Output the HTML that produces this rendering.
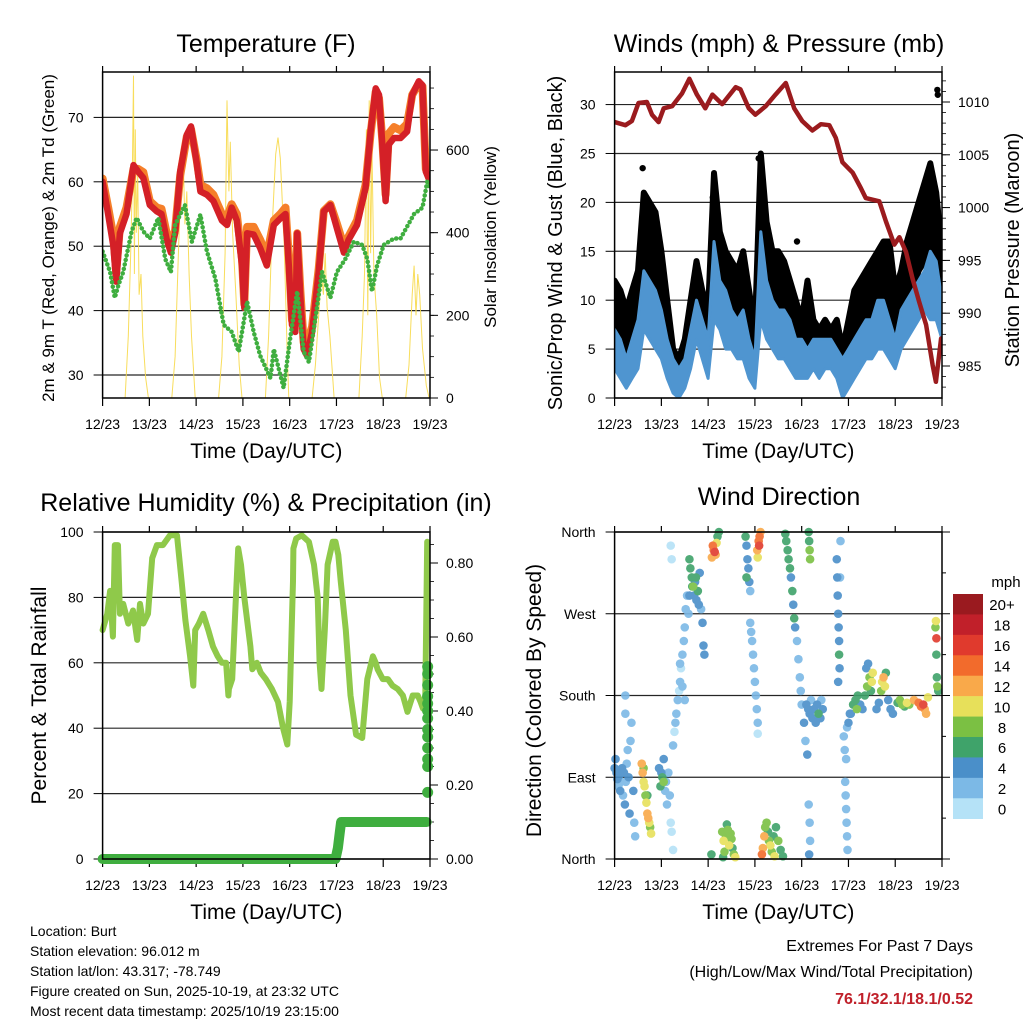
<!DOCTYPE html>
<html><head><meta charset="utf-8"><style>
html,body{margin:0;padding:0;background:#fff;}
svg{display:block;font-family:"Liberation Sans",Arial,sans-serif;}
</style></head><body>
<svg id="c" width="1024" height="1024" viewBox="0 0 1024 1024" xmlns="http://www.w3.org/2000/svg"></svg>
<script>
// ---------- DATA ----------
const dayLabels=["12/23","13/23","14/23","15/23","16/23","17/23","18/23","19/23"];
const tempT=[0,0.12,0.23,0.29,0.37,0.51,0.66,0.76,0.87,1.01,1.16,1.26,1.37,1.46,1.55,1.66,1.8,1.89,2.01,2.09,2.23,2.37,2.55,2.66,2.76,2.87,2.98,3.03,3.09,3.23,3.37,3.51,3.66,3.8,3.91,3.98,4.05,4.12,4.16,4.23,4.3,4.37,4.48,4.62,4.73,4.87,5.01,5.16,5.26,5.44,5.62,5.73,5.84,5.91,5.98,6.05,6.12,6.23,6.37,6.51,6.62,6.76,6.84,6.91,7.0];
const temp2m=[60,54.9,50,44.5,52,55,62.6,61.6,60.6,56.4,55.4,55,51,49,52,61.6,67.3,68.6,63,58.5,58,57,54,53.3,56,54,47,40.4,52,51.8,49.7,47,53.3,54.3,55,47,37.8,36.7,52,42,34,33,36.7,46,55.4,56.4,52.8,49,51,53.3,59,67.8,74.5,73.5,65.8,57,65.8,66.8,66.8,67.8,73.5,75.6,75,61.6,60];
const temp9m=[60.5,56,51.5,46,53,56,62,62,61.5,57,56,55.8,52,50.5,52.5,61,67,68.2,63.5,59.5,59,58,55,54.5,56.5,55,48,41,53,53,51,48.5,54,55,56,48.5,38.5,38,52,43,35,35,37.5,46.5,55.5,56.5,53.5,50,51.5,54,59.5,67.5,74,73,66.5,58,67.5,68.5,68,69,73.5,75.3,74.8,62,60.5];
const dewT=[0,0.16,0.26,0.34,0.44,0.62,0.73,0.87,1.01,1.19,1.34,1.46,1.55,1.76,1.91,2.09,2.23,2.41,2.59,2.76,2.91,3.09,3.23,3.37,3.59,3.66,3.87,4.01,4.16,4.3,4.41,4.55,4.69,4.87,5.01,5.19,5.37,5.55,5.66,5.76,5.87,6.01,6.23,6.37,6.66,6.84,6.94,7.0];
const dewF=[49.2,46,42,44,46,52.3,54.4,52.3,51.2,54.4,48,46,53.3,56.4,50.7,54.9,49.2,45,37.8,36.7,33.6,41.4,36.7,33,29.5,34,28,35.7,43,33.6,32,38.8,46,42,46,48,50.7,50.2,48,43,47,50.2,51.2,51.2,55,56,60,59];
const solarT=[0,0.48,0.55,0.6,0.63,0.66,0.68,0.7,0.72,0.75,0.78,0.82,0.86,0.92,0.98,1.48,1.55,1.62,1.68,1.72,1.76,1.8,1.85,1.9,1.98,2.48,2.55,2.62,2.66,2.7,2.73,2.78,2.85,2.92,2.98,3.48,3.55,3.62,3.7,3.75,3.8,3.88,3.95,3.98,4.48,4.55,4.62,4.68,4.72,4.76,4.8,4.86,4.95,5.48,5.55,5.6,5.64,5.67,5.7,5.73,5.76,5.8,5.86,5.92,5.98,6.48,6.55,6.62,6.66,6.7,6.74,6.78,6.84,6.92,6.98,7.0];
const solarW=[0,0,150,350,500,780,300,650,400,550,250,300,150,50,0,0,100,350,550,600,420,500,300,150,0,0,100,350,720,500,620,400,250,80,0,0,150,400,590,630,580,380,100,0,0,80,200,300,250,350,220,150,0,0,150,300,650,200,720,350,600,300,200,50,0,0,80,250,320,200,300,250,120,30,0,0];
const windT=[0,0.125,0.25,0.375,0.5,0.625,0.75,0.875,1,1.125,1.25,1.375,1.5,1.625,1.75,1.875,2,2.125,2.25,2.375,2.5,2.625,2.75,2.875,3,3.125,3.25,3.375,3.5,3.625,3.75,3.875,4,4.125,4.25,4.375,4.5,4.625,4.75,4.875,5,5.125,5.25,5.375,5.5,5.625,5.75,5.875,6,6.125,6.25,6.375,6.5,6.625,6.75,6.875,7];
const sustLo=[3,2,1,2,3,7,6,5,4,2,0.5,0,1,3,6,4,2,8,7,5,5,4,4,2,1,8,6,5,4,4,3,2,2,2,3,2,3,3,2,0,1,2,3,4,4,5,5,4,3,5,6,7,8,9,8,8,6];
const sustHi=[7,6,4,6,8,13,12,11,9,6,4,3,4,7,10,8,6,16,12,11,9,8,9,6,4,17,12,10,9,9,8,6,6,5,6,6,6,6,5,4,5,6,7,8,8,10,10,8,6,9,10,11,12,13,15,14,10];
const gustLo=[5,4,3,4,6,10,10,9,8,4,2,2,2,5,9,7,5,10,10,9,8,7,8,5,4,12,10,8,7,7,6,5,4,5,4,5,4,4,4,2,3,5,6,6,7,8,8,7,5,7,9,11,13,14,15,13,8];
const gustHi=[12,11,9,11,13,21,20,19,15,10,5,4,6,10,14,11,9,23,17,15,14,13,15,11,7,25,18,15,15,14,12,10,8,12,8,7,8,7,8,5,8,11,12,13,14,15,16,16,11,13,16,18,20,22,24,21,15];
const gustOutT=[0.6,2.1,2.3,3.08,3.9,4.65,6.82,6.9,6.91];
const gustOutW=[23.5,20.5,15,24.5,16,7,22,31.5,31];
const presT=[0,0.23,0.37,0.51,0.69,0.8,0.94,1.05,1.23,1.44,1.6,1.76,1.94,2.09,2.3,2.59,2.69,2.87,3.01,3.23,3.44,3.66,3.84,4.01,4.23,4.41,4.59,4.73,4.87,5.09,5.27,5.37,5.66,5.8,5.98,6.09,6.23,6.37,6.51,6.66,6.8,6.87,6.98];
const presMb=[1008.1,1007.8,1008.2,1009.9,1010,1008.8,1008.1,1009.4,1009.6,1010.8,1012.2,1010.7,1009.4,1010.7,1009.8,1011.4,1011.2,1009.4,1008.8,1009.6,1010.7,1011.8,1009.4,1008.2,1007.3,1007.9,1007.8,1006.6,1004.3,1003.3,1001.8,1000.9,1000.6,998.7,996.5,997.2,995.8,993.3,991.1,988.9,985.1,983.5,987.6];
const rhT=[0,0.1,0.16,0.22,0.26,0.33,0.37,0.44,0.55,0.65,0.74,0.8,0.87,0.97,1.06,1.16,1.29,1.44,1.59,1.69,1.77,1.87,1.94,1.98,2.06,2.15,2.26,2.36,2.46,2.55,2.64,2.69,2.7,2.77,2.85,2.9,2.96,3.03,3.16,3.2,3.3,3.38,3.49,3.62,3.75,3.86,3.95,4.0,4.07,4.08,4.14,4.26,4.41,4.52,4.6,4.64,4.68,4.69,4.75,4.81,4.92,4.98,5.04,5.09,5.2,5.3,5.42,5.55,5.66,5.78,5.84,5.88,5.99,6.1,6.2,6.31,6.42,6.52,6.63,6.74,6.8,6.85,6.9,6.94];
const rhPct=[70,75,82,68,96,96,75,78,72,76,67,78,72,75,92,96,96,99,99,85,73,62,53,70,72,75,70,65,62,60,60,50,52,55,80,95,90,80,65,58,60,57,55,52,48,40,35,48,85,95,98,99,97,90,80,60,52,55,70,90,97,97,93,85,70,50,38,37,55,62,60,58,55,55,53,52,50,45,50,50,48,46,50,97];
const precT=[0,4.98,5.03,5.07,5.1,5.15,6.93];
const precIn=[0,0,0.03,0.07,0.1,0.1,0.1];
const precEndIn=[0.18,0.25,0.27,0.3,0.33,0.35,0.38,0.4,0.42,0.44,0.47,0.5,0.52];
const dirT=[0,0.02,0.04,0.06,0.08,0.1,0.12,0.14,0.16,0.18,0.2,0.22,0.24,0.26,0.28,0.3,0.32,0.34,0.36,0.4,0.42,0.44,0.23,0.23,
0.58,0.6,0.62,0.64,0.66,0.68,0.7,0.72,0.74,0.76,0.78,0.62,0.7,
0.95,1.0,1.02,1.05,1.08,1.1,1.12,1.15,1.2,1.22,1.25,1.18,0.98,1.05,
1.25,1.28,1.3,1.32,1.35,1.38,1.4,1.42,1.45,1.48,1.5,1.52,1.55,1.2,1.22,1.45,1.5,1.4,
1.6,1.62,1.65,1.68,1.7,1.72,1.75,1.78,1.8,1.82,1.85,1.6,1.58,1.88,1.9,1.92,1.66,1.74,
2.1,2.12,2.14,2.16,2.08,2.18,2.2,2.23,2.07,
2.3,2.33,2.35,2.38,2.4,2.42,2.45,2.48,2.5,2.52,2.55,2.58,2.32,
2.8,2.82,2.84,2.86,2.88,2.9,2.82,
2.9,2.92,2.94,2.96,2.98,3.0,3.02,3.04,3.06,3.06,
3.05,3.08,3.1,3.12,3.09,3.06,
3.15,3.17,3.2,3.22,3.25,3.28,3.3,3.33,3.36,3.4,3.45,3.5,3.55,3.6,3.42,
3.65,3.67,3.7,3.72,3.75,3.77,3.8,3.82,3.84,3.86,
4.15,4.16,4.17,4.18,
3.9,3.93,3.96,3.98,4.0,4.05,4.08,4.12,
4.1,4.14,4.17,4.2,4.23,4.26,4.3,4.33,4.36,4.4,4.42,4.45,
4.15,4.17,4.18,4.16,
4.75,4.76,4.77,4.78,4.79,4.8,4.8,4.81,4.78,4.82,4.83,
4.93,4.94,4.95,4.96,4.97,4.98,4.9,4.92,4.95,4.97,5.0,5.03,
5.05,5.1,5.15,5.18,5.2,5.25,5.3,5.35,5.4,5.45,5.5,5.52,5.48,5.38,5.42,
5.6,5.65,5.7,5.72,5.75,5.78,5.8,5.85,5.9,5.95,6.05,6.1,6.15,6.2,6.25,6.3,6.4,6.5,6.55,6.6,6.63,6.66,6.7,6.86,6.87,6.88,6.88,6.89,6.9,6.92];
const dirDeg=[100,110,95,88,80,92,75,85,100,70,95,60,85,105,120,90,50,130,150,75,40,25,180,160,
105,95,85,80,70,62,50,45,40,35,28,100,70,
100,95,90,110,75,85,60,95,40,30,10,70,80,85,
125,140,150,160,175,185,195,210,225,240,255,275,290,345,330,190,175,215,
330,320,310,300,290,305,285,295,280,315,275,290,270,260,235,225,300,310,
345,340,338,335,332,348,355,360,5,
30,20,8,25,38,32,15,28,22,12,5,2,2,
355,345,330,320,305,295,310,
260,250,240,225,210,195,180,165,150,138,
340,350,355,360,345,332,
5,12,25,35,40,30,20,15,8,25,35,20,10,3,3,
358,350,340,330,320,310,295,280,265,255,
360,350,340,330,
240,220,200,185,170,150,130,115,
170,165,160,175,155,165,150,170,160,155,175,165,
60,40,20,5,
330,310,290,270,255,240,225,210,195,310,350,
85,70,55,40,25,10,135,120,110,145,150,160,
160,170,175,165,180,170,165,180,190,200,195,205,185,210,215,
165,172,185,195,200,190,205,175,165,160,172,175,170,168,172,170,175,172,168,170,165,160,178,255,262,243,225,200,190,185];
const dirSpd=[4,4,5,4,3,4,4,3,4,3,4,4,3,2,3,4,4,2,3,4,3,3,3,2,
13,12,11,10,9,10,12,13,11,9,10,8,7,
5,4,7,4,3,2,2,3,1,1,1,2,6,8,
2,1,2,2,2,1,2,1,2,2,2,2,3,1,1,2,2,2,
6,7,6,8,5,4,4,6,4,5,3,4,3,4,5,4,7,6,
14,15,16,13,12,10,7,6,6,
9,10,9,8,7,9,10,8,9,7,8,10,7,
6,5,4,4,5,3,6,
2,2,2,2,2,2,2,2,2,1,
12,14,15,13,17,11,
14,13,12,9,8,7,9,10,8,7,6,8,7,6,10,
6,7,6,6,7,5,6,5,6,5,
6,7,9,8,
3,2,2,2,3,4,3,4,
4,5,4,3,4,5,4,4,6,4,3,4,
3,3,3,4,
4,5,4,5,4,5,6,4,5,3,3,
2,2,2,2,2,2,2,2,3,3,4,4,
5,6,7,8,6,5,4,6,8,9,10,11,6,5,4,
4,5,8,10,12,10,7,5,4,4,7,8,9,7,10,9,12,14,15,16,13,12,10,8,10,16,6,6,8,7];
const cbarLabels=["20+","18","16","14","12","10","8","6","4","2","0"];
const cbarColors=["#9a1a1f","#c1202a","#e03a2d","#f26b2c","#f9a94a","#e7e05a","#7bc043","#3fa36a","#4a8fc9","#7cb9e6","#b5e2f7"];

// ---------- HELPERS ----------
const NS="http://www.w3.org/2000/svg";
const svg=document.getElementById('c');
function el(tag,attrs,parent){const e=document.createElementNS(NS,tag);for(const k in attrs)e.setAttribute(k,attrs[k]);(parent||svg).appendChild(e);return e;}
function txt(s,x,y,size,anchor,parent,extra){const t=el('text',Object.assign({x:x,y:y,'font-size':size,'text-anchor':anchor||'middle',fill:'#000'},extra||{}),parent);t.textContent=s;return t;}
function lin(d0,d1,r0,r1){return v=>r0+(v-d0)/(d1-d0)*(r1-r0);}
function colorFor(s){let i=Math.min(10,Math.floor(s/2));return cbarColors[10-i];}

const P1={x0:102.6,x1:430,y0:72,y1:398};
const P2={x0:614.6,x1:942,y0:72,y1:398};
const P3={x0:102.6,x1:430,y0:532,y1:859};
const P4={x0:614.6,x1:942,y0:532,y1:859};

function frame(P,name){
  const g=el('g',{});
  
  
  const xs=lin(0,7,P.x0,P.x1);
  const xg=el('g',{},g);
  
  
  dayLabels.forEach((lb,i)=>{
    const x=xs(i);
    el('line',{x1:x,x2:x,y1:P.y1,y2:P.y1+8,stroke:'#000','stroke-width':1.2},xg);
    el('line',{x1:x,x2:x,y1:P.y0,y2:P.y0-6,stroke:'#000','stroke-width':1.2},xg);
    const t=txt(lb,x,P.y1+31,14,'middle',xg);
    
    
  });
  const xt=txt('Time (Day/UTC)',(P.x0+P.x1)/2,P.y1+60,21,'middle',g);
  
  
  return {g,xs};
}
function box(P,g){const b=el('rect',{x:P.x0,y:P.y0,width:P.x1-P.x0,height:P.y1-P.y0,fill:'none',stroke:'#000','stroke-width':1.5},g);}
function leftAxis(P,g,ys,ticks,labels,grid){
  const ag=el('g',{},g);
  
  
  ticks.forEach((v,i)=>{const y=ys(v);
    if(grid)el('line',{x1:P.x0,x2:P.x1,y1:y,y2:y,stroke:'#000','stroke-width':1.2,opacity:0.85},ag);
    el('line',{x1:P.x0-9,x2:P.x0,y1:y,y2:y,stroke:'#000','stroke-width':1},ag);
    const t=txt(labels[i],P.x0-19,y+5,14,'end',ag);
    
    
  });
}
function rightAxis(P,g,ys,ticks,labels,minors){
  const ag=el('g',{},g);
  
  
  minors.forEach(v=>{const y=ys(v);el('line',{x1:P.x1,x2:P.x1+4,y1:y,y2:y,stroke:'#000','stroke-width':0.8},ag);});
  ticks.forEach((v,i)=>{const y=ys(v);
    el('line',{x1:P.x1,x2:P.x1+8,y1:y,y2:y,stroke:'#000','stroke-width':1},ag);
    const t=txt(labels[i],P.x1+16,y+5,14,'start',ag);
    
    
  });
}
function pts(T,V,xs,ys){return T.map((t,i)=>xs(t).toFixed(1)+','+ys(V[i]).toFixed(1)).join(' ');}
function rot(s,x,y,size,g,name){const t=txt(s,x,y,size,'middle',g,{transform:'rotate(-90 '+x+' '+y+')'});return t;}
function title(s,x,y,name){const t=txt(s,x,y,25,'middle');}

// ---------- PANEL 1 ----------
(function(){
  const P=P1;const {g,xs}=frame(P,'temperature-panel');
  const ys=lin(26.43,77.05,P.y1,P.y0);
  const ss=lin(0,788.8,P.y1,P.y0);
  const clip=el('clipPath',{id:'cl1'},g);el('rect',{x:P.x0,y:P.y0,width:P.x1-P.x0,height:P.y1-P.y0},clip);
  leftAxis(P,g,ys,[30,40,50,60,70],["30","40","50","60","70"],true);
  let mins=[];for(let v=50;v<=750;v+=50)mins.push(v);
  rightAxis(P,g,ss,[0,200,400,600],["0","200","400","600"],mins);
  const cg=el('g',{'clip-path':'url(#cl1)'},g);
  const s=el('polyline',{points:pts(solarT,solarW,xs,ss),fill:'none',stroke:'#f7d94a','stroke-width':1,opacity:0.9},cg);
  
  
  const o=el('polyline',{points:pts(tempT,temp9m,xs,ys),fill:'none',stroke:'#f57f2a','stroke-width':8,'stroke-linejoin':'round','stroke-linecap':'round'},cg);
  
  
  const r=el('polyline',{points:pts(tempT,temp2m,xs,ys),fill:'none',stroke:'#d42027','stroke-width':6.5,'stroke-linejoin':'round','stroke-linecap':'round'},cg);
  
  
  const d=el('polyline',{points:pts(dewT,dewF,xs,ys),fill:'none',stroke:'#3fae3f','stroke-width':4.5,'stroke-dasharray':'0.1 4.5','stroke-linecap':'round','stroke-linejoin':'round'},cg);
  
  
  box(P,g);
  rot('2m & 9m T (Red, Orange) & 2m Td (Green)',54,(P.y0+P.y1)/2+3,17,g,'y-axis-title');
  rot('Solar Insolation (Yellow)',496,(P.y0+P.y1)/2+2,17,g,'y2-axis-title');
  title('Temperature (F)',266,52,'temperature-title');
})();

// ---------- PANEL 2 ----------
(function(){
  const P=P2;const {g,xs}=frame(P,'winds-panel');
  const ys=lin(0,33.33,P.y1,P.y0);
  const ps=lin(981.97,1012.84,P.y1,P.y0);
  const clip=el('clipPath',{id:'cl2'},g);el('rect',{x:P.x0,y:P.y0,width:P.x1-P.x0,height:P.y1-P.y0},clip);
  leftAxis(P,g,ys,[0,5,10,15,20,25,30],["0","5","10","15","20","25","30"],true);
  let mins=[];for(let v=983;v<=1012;v+=1)mins.push(v);
  rightAxis(P,g,ps,[985,990,995,1000,1005,1010],["985","990","995","1000","1005","1010"],mins);
  const cg=el('g',{'clip-path':'url(#cl2)'},g);
  const env=(lo,hi)=>pts(windT,hi,xs,ys)+' '+pts(windT.slice().reverse(),lo.slice().reverse(),xs,ys);
  const gb=el('polygon',{points:env(gustLo,gustHi),fill:'#000',stroke:'#000','stroke-width':6,'stroke-linejoin':'round'},cg);
  
  
  gustOutT.forEach((t,i)=>{const c=el('circle',{cx:xs(t),cy:ys(gustOutW[i]),r:3.2,fill:'#000'},cg);
    
    });
  const sb=el('polygon',{points:env(sustLo,sustHi),fill:'#4f95d0',stroke:'#4f95d0','stroke-width':3,'stroke-linejoin':'round'},cg);
  
  
  const pr=el('polyline',{points:pts(presT,presMb,xs,ps),fill:'none',stroke:'#9b1b1e','stroke-width':4.5,'stroke-linejoin':'round','stroke-linecap':'round'},cg);
  
  
  box(P,g);
  rot('Sonic/Prop Wind & Gust (Blue, Black)',562,(P.y0+P.y1)/2+8,20,g,'y-axis-title');
  rot('Station Pressure (Maroon)',1019,(P.y0+P.y1)/2+15,20,g,'y2-axis-title');
  title('Winds (mph) & Pressure (mb)',779,52,'winds-title');
})();

// ---------- PANEL 3 ----------
(function(){
  const P=P3;const {g,xs}=frame(P,'humidity-panel');
  const ys=lin(0,100,P.y1,P.y0);
  const ps=lin(0,0.8838,P.y1,P.y0);
  leftAxis(P,g,ys,[0,20,40,60,80,100],["0","20","40","60","80","100"],true);
  let mins=[];for(let v=0.05;v<0.86;v+=0.05)mins.push(v);
  rightAxis(P,g,ps,[0,0.2,0.4,0.6,0.8],["0.00","0.20","0.40","0.60","0.80"],mins);
  const rh=el('polyline',{points:pts(rhT,rhPct,xs,ys),fill:'none',stroke:'#8fc94a','stroke-width':6,'stroke-linejoin':'round','stroke-linecap':'round'},g);
  
  
  const pc=el('polyline',{points:pts(precT,precIn,xs,ps),fill:'none',stroke:'#3fae3f','stroke-width':10,'stroke-linejoin':'round','stroke-linecap':'round'},g);
  
  
  precEndIn.forEach(v=>{const c=el('circle',{cx:xs(6.95),cy:ps(v),r:5.5,fill:'#3fae3f'},g);
    
    });
  box(P,g);
  rot('Percent & Total Rainfall',46,(P.y0+P.y1)/2,21,g,'y-axis-title');
  title('Relative Humidity (%) & Precipitation (in)',266,511,'humidity-title');
})();

// ---------- PANEL 4 ----------
(function(){
  const P=P4;const {g,xs}=frame(P,'wind-direction-panel');
  const ys=lin(0,360,P.y1,P.y0);
  leftAxis(P,g,ys,[0,90,180,270,360],["North","East","South","West","North"],true);
  [45,135,225,315].forEach(v=>el('line',{x1:P.x1,x2:P.x1+4,y1:ys(v),y2:ys(v),stroke:'#000'},g));
  [0,90,180,270,360].forEach(v=>el('line',{x1:P.x1,x2:P.x1+8,y1:ys(v),y2:ys(v),stroke:'#000'},g));
  const sg=el('g',{opacity:0.9},g);
  
  
  const order=dirT.map((t,i)=>i).sort((a,b)=>dirSpd[a]-dirSpd[b]);
  order.forEach(i=>{const c=el('circle',{cx:xs(dirT[i]),cy:ys(dirDeg[i]),r:4.3,fill:colorFor(dirSpd[i])},sg);
    
    });
  box(P,g);
  rot('Direction (Colored By Speed)',541,(P.y0+P.y1)/2+5,21,g,'y-axis-title');
  title('Wind Direction',779,505,'wind-direction-title');
  const cb=el('g',{});
  
  
  const h=(818.7-594)/11;
  cbarColors.forEach((c,i)=>{el('rect',{x:953,y:594+i*h,width:30,height:h+0.3,fill:c},cb);
    const t=txt(cbarLabels[i],1002,594+i*h+h/2+6,15,'middle',cb);
    
    });
  const u=txt('mph',1006,587,15,'middle',cb);
  
  
})();

// ---------- Footer ----------
const info=["Location: Burt","Station elevation: 96.012 m","Station lat/lon: 43.317; -78.749","Figure created on Sun, 2025-10-19, at 23:32 UTC","Most recent data timestamp: 2025/10/19 23:15:00"];
info.forEach((s,i)=>{const t=txt(s,30,936+i*20,14,'start');
  
  });
const e1=txt('Extremes For Past 7 Days',973,951,16,'end');


const e2=txt('(High/Low/Max Wind/Total Precipitation)',973,977,16,'end');


const e3=txt('76.1/32.1/18.1/0.52',973,1004,16,'end',null,{fill:'#c0202a','font-weight':'bold'});


</script>
</body></html>
